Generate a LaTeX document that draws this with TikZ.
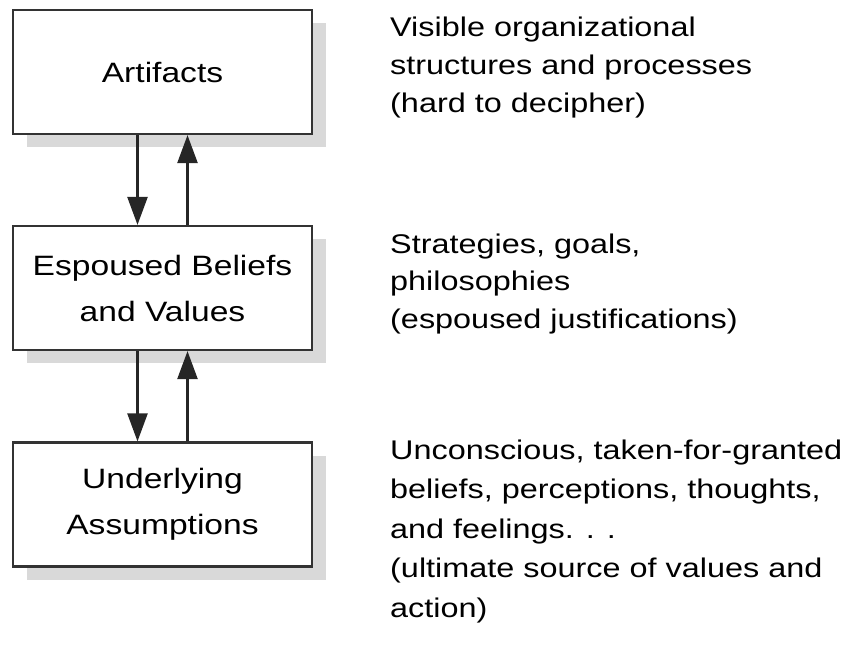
\documentclass[tikz,border=0pt]{standalone}
\usepackage{fontspec}
\setmainfont{Liberation Sans}[FakeStretch=1.2]
\usetikzlibrary{arrows.meta,shadows}
\begin{document}
\begin{tikzpicture}[x=1pt,y=-1pt,
  layerbox/.style={draw=black!80, line width=2.2pt, fill=white,
    minimum width=299pt, minimum height=124pt, inner sep=0pt, align=center,
    font=\fontsize{28}{46}\selectfont,
    drop shadow={shadow xshift=14pt, shadow yshift=-13pt, fill=black!15, opacity=1}},
  note/.style={anchor=base west, align=left, inner sep=0pt},
  flow/.style={draw=black!85, line width=2.4pt, -{Triangle[length=28pt,width=20pt]}}]
\useasboundingbox (0,0) rectangle (858,664);
\node[layerbox] (art) at (162.5,72) {Artifacts};
\node[layerbox] (esp) at (162.5,288) {Espoused Beliefs\\and Values};
\node[layerbox] (und) at (162.5,504.5) {Underlying\\Assumptions};
\draw[flow] ([xshift=-25pt]art.south) -- ([xshift=-25pt]esp.north);
\draw[flow] ([xshift=25pt]esp.north) -- ([xshift=25pt]art.south);
\draw[flow] ([xshift=-25pt]esp.south) -- ([xshift=-25pt]und.north);
\draw[flow] ([xshift=25pt]und.north) -- ([xshift=25pt]esp.south);
\node[note, font=\fontsize{27}{38}\selectfont] (n1) at (390,112)
  {Visible organizational\\structures and processes\\(hard to decipher)};
\node[note, font=\fontsize{27}{37.5}\selectfont] (n2) at (390,328)
  {Strategies, goals,\\philosophies\\(espoused justifications)};
\node[note, font=\fontsize{27}{39.5}\selectfont] (n3) at (390,617)
  {Unconscious, taken-for-granted\\beliefs, perceptions, thoughts,\\and feelings. . .\\(ultimate source of values and\\action)};
\end{tikzpicture}
\end{document}
